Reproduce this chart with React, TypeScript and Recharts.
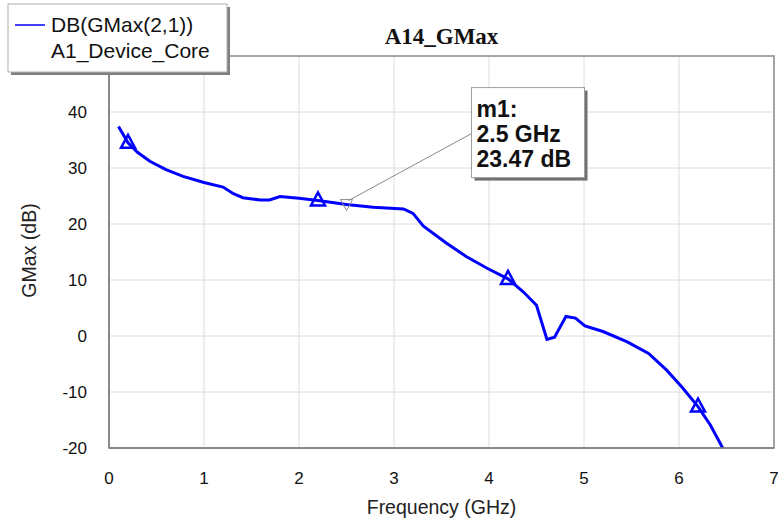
import React from 'react';
import { LineChart, Line, XAxis, YAxis, CartesianGrid, ReferenceDot, ReferenceArea } from 'recharts';

const freqGHz = [0.1, 0.2, 0.3, 0.43, 0.6, 0.78, 1.0, 1.2, 1.31, 1.41, 1.59, 1.69, 1.8, 2.0, 2.2, 2.5, 2.78, 3.1, 3.2, 3.31, 3.55, 3.76, 3.98, 4.2, 4.36, 4.5, 4.61, 4.69, 4.81, 4.91, 5.01, 5.2, 5.45, 5.68, 5.87, 6.03, 6.2, 6.33, 6.46];
const gmaxDb = [37.4, 34.5, 32.8, 31.2, 29.7, 28.5, 27.4, 26.6, 25.4, 24.7, 24.3, 24.3, 24.9, 24.6, 24.2, 23.47, 23.0, 22.7, 21.9, 19.6, 16.6, 14.2, 12.1, 10.2, 7.9, 5.5, -0.6, -0.2, 3.5, 3.2, 1.8, 0.8, -1.0, -3.1, -6.1, -9.1, -12.6, -15.9, -20];
const xTicks = [0, 1, 2, 3, 4, 5, 6, 7];
const yTicks = [-20, -10, 0, 10, 20, 30, 40];
const triangleMarkerFreqs = [0.2, 2.2, 4.2, 6.2];
const markerName = 'm1:';
const markerFreq = 2.5;
const markerValue = 23.47;
const titleText = 'A14_GMax';
const seriesName = 'DB(GMax(2,1))';
const seriesSource = 'A1_Device_Core';
const xLabel = 'Frequency (GHz)';
const yLabel = 'GMax (dB)';

const data = freqGHz.map((f, i) => ({ f, g: gmaxDb[i] }));

const SANS = '"Liberation Sans", Arial, sans-serif';
const SERIF = '"Liberation Serif", "Times New Roman", serif';
const BLUE = '#0000ff';

const renderDot = (props: any) => {
  const { cx, cy, payload, index } = props;
  if (!payload || !triangleMarkerFreqs.includes(payload.f)) return <g key={`dot-${index}`} />;
  return (
    <path
      key={`dot-${index}`}
      d={`M${cx},${cy - 8} L${cx + 7},${cy + 5} L${cx - 7},${cy + 5} Z`}
      fill="none"
      stroke={BLUE}
      strokeWidth={2.5}
    />
  );
};

const MarkerShape = (props: any) => {
  const { cx, cy } = props;
  if (cx == null || cy == null) return <g />;
  const bx = cx + 125;
  const by = cy - 117;
  const bw = 113;
  const bh = 90;
  return (
    <g>
      <path d={`M${cx - 6},${cy - 5} L${cx + 6},${cy - 5} L${cx},${cy + 6} Z`} fill="none" stroke="#8a8a8a" strokeWidth={1} />
      <line x1={cx + 2} y1={cy - 4} x2={bx} y2={cy - 71} stroke="#8a8a8a" strokeWidth={1} />
      <rect x={bx + 3} y={by + 3} width={bw} height={bh} fill="#707070" />
      <rect x={bx} y={by} width={bw} height={bh} fill="#ffffff" stroke="#a0a0a0" strokeWidth={1} />
      <g fontFamily={SANS} fontSize={23} fontWeight="bold" fill="#111">
        <text x={bx + 5} y={cy - 88}>{markerName}</text>
        <text x={bx + 5} y={cy - 63}>{`${markerFreq} GHz`}</text>
        <text x={bx + 5} y={cy - 37.5}>{`${markerValue} dB`}</text>
      </g>
    </g>
  );
};

export default function App() {
  return (
    <div style={{ position: 'absolute', left: 0, top: 0, width: 778, height: 521, background: '#fff' }}>
      <LineChart width={778} height={521} data={data} margin={{ top: 56, right: 4, bottom: 0, left: 0 }}>
        <CartesianGrid stroke="#dcdcdc" strokeWidth={1} />
        <XAxis
          dataKey="f"
          type="number"
          domain={[0, 7]}
          ticks={xTicks}
          interval={0}
          tickLine={false}
          axisLine={{ stroke: '#808080', strokeWidth: 1.5 }}
          tick={{ fontSize: 17, fill: '#111', fontFamily: SANS }}
          tickMargin={18}
          height={73}
          allowDataOverflow
        />
        <YAxis
          type="number"
          domain={[-20, 50]}
          ticks={yTicks}
          interval={0}
          tickLine={false}
          axisLine={{ stroke: '#808080', strokeWidth: 1.5 }}
          tick={{ fontSize: 17, fill: '#111', fontFamily: SANS }}
          tickMargin={16}
          width={109}
          allowDataOverflow
        />
        <ReferenceArea x1={0} x2={7} y1={-20} y2={50} fill="none" stroke="#8c8c8c" strokeWidth={1.5} ifOverflow="visible" />
        <Line
          type="linear"
          dataKey="g"
          stroke={BLUE}
          strokeWidth={3}
          dot={renderDot}
          activeDot={false}
          isAnimationActive={false}
        />
        <ReferenceDot x={markerFreq} y={markerValue} r={6} shape={MarkerShape} ifOverflow="visible" />
      </LineChart>
      <svg width={778} height={521} style={{ position: 'absolute', left: 0, top: 0, pointerEvents: 'none' }}>
        <text x={441.5} y={43.5} textAnchor="middle" fontFamily={SERIF} fontWeight="bold" fontSize={23} fill="#111">{titleText}</text>
        <text x={441.5} y={514} textAnchor="middle" fontFamily={SANS} fontSize={19.5} fill="#222">{xLabel}</text>
        <text x={36} y={250.5} textAnchor="middle" fontFamily={SANS} fontSize={19.5} fill="#222" transform="rotate(-90 36 250.5)">{yLabel}</text>
        <rect x={11} y={7} width={219} height={68} fill="#808080" />
        <rect x={8} y={4} width={219} height={68} fill="#ffffff" stroke="#b0b0b0" strokeWidth={1} />
        <line x1={15} y1={25} x2={45} y2={25} stroke={BLUE} strokeWidth={1.5} />
        <text x={51} y={31.5} fontFamily={SANS} fontSize={21} fill="#111">{seriesName}</text>
        <text x={51} y={58.3} fontFamily={SANS} fontSize={21} fill="#111">{seriesSource}</text>
      </svg>
    </div>
  );
}
